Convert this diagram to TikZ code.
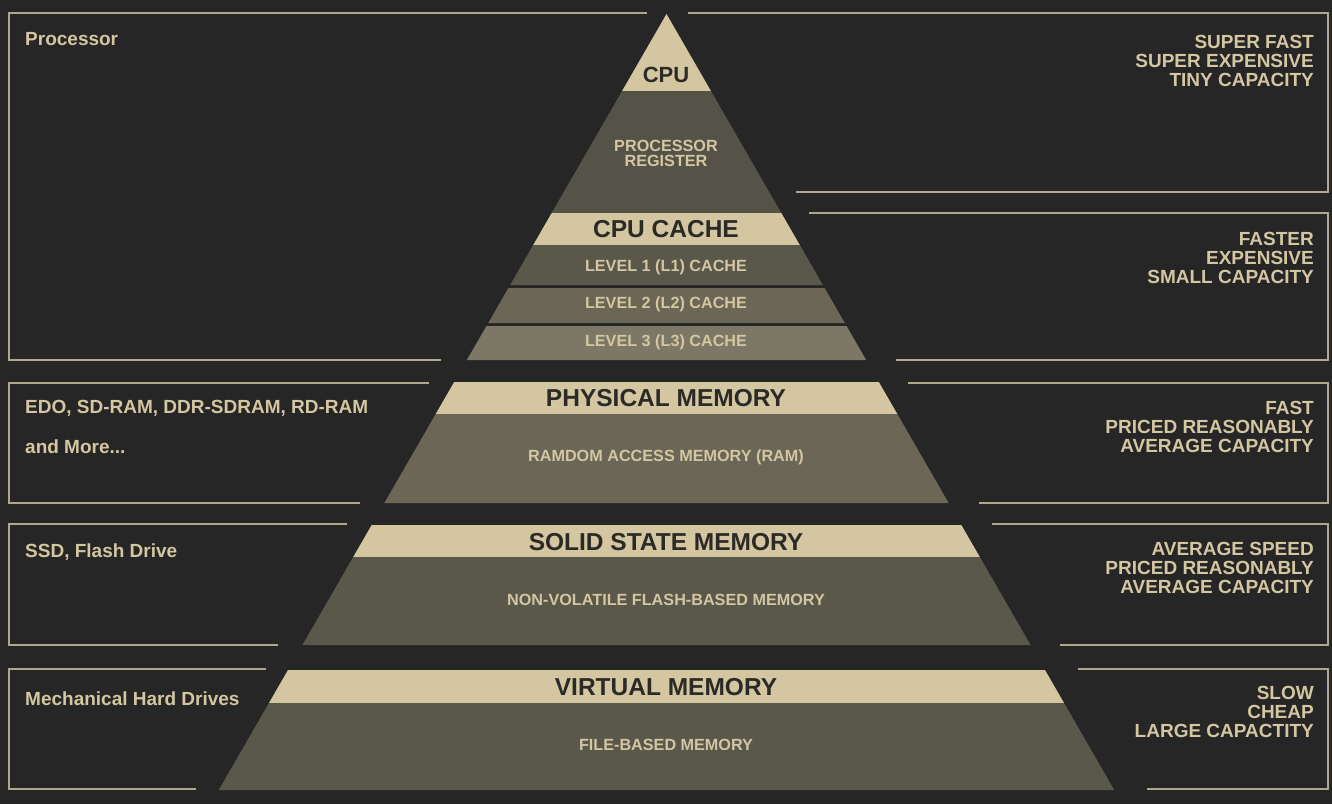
\documentclass[tikz,border=0pt]{standalone}
\usepackage{fontspec}
\setmainfont{Liberation Sans}
\definecolor{bgdark}{HTML}{262626}
\definecolor{sand}{HTML}{D3C6A1}
\definecolor{tierdark}{HTML}{5A574B}
\definecolor{tiermid}{HTML}{6B6656}
\definecolor{tierlight}{HTML}{7D7866}
\definecolor{framebeige}{HTML}{B0A78C}
\definecolor{ink}{HTML}{2B2A27}
% one slice of the pyramid between two heights (pixel units, y downwards)
\newcommand{\slice}[3]{%
  \fill[#1] ({666.5-0.577*(#2-14)},#2) -- ({666.5+0.577*(#2-14)},#2)
    -- ({666.5+0.577*(#3-14)},#3) -- ({666.5-0.577*(#3-14)},#3) -- cycle;}
\begin{document}
\begin{tikzpicture}[
        x=1pt, y=-1pt,
        frame_line/.style={draw=framebeige, line width=2.4pt},
        tier_title/.style={font=\bfseries\fontsize{24.5}{26}\selectfont, text=ink},
        tier_label/.style={font=\bfseries\fontsize{16.2}{16.5}\selectfont, text=sand, align=center},
        side_note/.style={font=\bfseries\fontsize{19}{20}\selectfont, text=sand, anchor=west, inner xsep=0pt},
        spec_note/.style={font=\bfseries\fontsize{19}{18.8}\selectfont, text=sand, anchor=east, align=right, inner xsep=0pt}
    ]
        % Hintergrund
        \fill[bgdark] (0,0) rectangle (1332,804);
        \useasboundingbox (0,0) rectangle (1332,804);

        % Rahmen links
        \foreach \ytop/\xtop/\ybot/\xbot in {13/647/360/441, 383/429/503/360, 524/347/645/278, 669/266/789/196}
            \draw[frame_line] (\xtop,\ytop) -- (9,\ytop) -- (9,\ybot) -- (\xbot,\ybot);
        % Rahmen rechts
        \foreach \ytop/\xtop/\ybot/\xbot in {13/688/192/796, 213/809/360/896, 383/908/503/979, 524/992/645/1060, 669/1078/789/1147}
            \draw[frame_line] (\xtop,\ytop) -- (1328,\ytop) -- (1328,\ybot) -- (\xbot,\ybot);

        % Pyramide
        \slice{sand}{14}{91}
        \slice{tierdark!95!black}{91}{213}
        \slice{sand}{213}{245}
        \slice{tierdark}{245}{285}
        \slice{tiermid}{288}{323}
        \slice{tierlight}{326}{360}
        \slice{sand}{382}{414}
        \slice{tiermid}{414}{503}
        \slice{sand}{525}{557}
        \slice{tierdark}{557}{645}
        \slice{sand}{670}{703}
        \slice{tierdark}{703}{790}

        % Beschriftung der Pyramide
        \node[tier_title, font=\bfseries\fontsize{22}{24}\selectfont] (cpu) at (666,75) {CPU};
        \node[tier_label] (register) at (666,153) {PROCESSOR\\[-1.5pt]REGISTER};
        \node[tier_title] (cache) at (666,229) {CPU CACHE};
        \node[tier_label] (lone) at (666,267) {LEVEL 1 (L1) CACHE};
        \node[tier_label] (ltwo) at (666,304) {LEVEL 2 (L2) CACHE};
        \node[tier_label] (lthree) at (666,342) {LEVEL 3 (L3) CACHE};
        \node[tier_title] (physical) at (666,398) {PHYSICAL MEMORY};
        \node[tier_label] (ram) at (666,457) {RAMDOM ACCESS MEMORY (RAM)};
        \node[tier_title] (solid) at (666,542) {SOLID STATE MEMORY};
        \node[tier_label] (flash) at (666,600) {NON-VOLATILE FLASH-BASED MEMORY};
        \node[tier_title] (virtual) at (666,687) {VIRTUAL MEMORY};
        \node[tier_label] (file) at (666,745) {FILE-BASED MEMORY};

        % Beispiele links
        \node[side_note] (processor) at (25,39) {Processor};
        \node[side_note] (dram) at (25,408) {EDO, SD-RAM, DDR-SDRAM, RD-RAM};
        \node[side_note] (more) at (25,447) {and More...};
        \node[side_note] (ssd) at (25,552) {SSD, Flash Drive};
        \node[side_note] (hdd) at (25,699) {Mechanical Hard Drives};

        % Eigenschaften rechts
        \node[spec_note] (specone) at (1314,61) {SUPER FAST\\SUPER EXPENSIVE\\TINY CAPACITY};
        \node[spec_note] (spectwo) at (1314,258) {FASTER\\EXPENSIVE\\SMALL CAPACITY};
        \node[spec_note] (specthree) at (1314,427) {FAST\\PRICED REASONABLY\\AVERAGE CAPACITY};
        \node[spec_note] (specfour) at (1314,568) {AVERAGE SPEED\\PRICED REASONABLY\\AVERAGE CAPACITY};
        \node[spec_note] (specfive) at (1314,712) {SLOW\\CHEAP\\LARGE CAPACTITY};
\end{tikzpicture}
\end{document}
